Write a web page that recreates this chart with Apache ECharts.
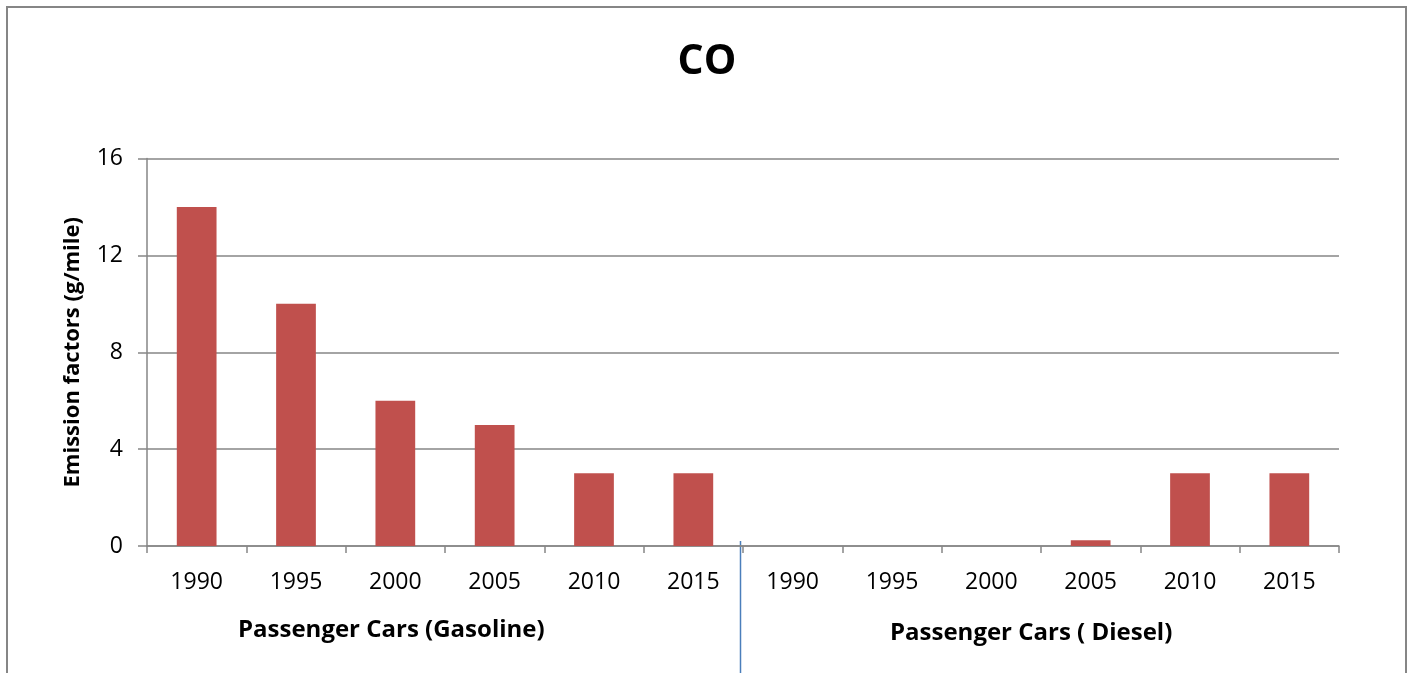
<!DOCTYPE html>
<html>
<head>
<meta charset="utf-8">
<script src="https://cdn.jsdelivr.net/npm/echarts@6/dist/echarts.min.js"></script>
<style>
html,body{margin:0;padding:0;background:#fff;}
#chart{width:1414px;height:673px;}
</style>
</head>
<body>
<div id="chart"></div>
<script>
const categories = ['1990','1995','2000','2005','2010','2015','1990','1995','2000','2005','2010','2015'];
const coValues = [14, 10, 6, 5, 3, 3, 0, 0, 0, 0.24, 3, 3];
const groupLabels = ['Passenger Cars (Gasoline)', 'Passenger Cars ( Diesel)'];
const yTicks = { min: 0, max: 16, interval: 4 };

const FONT = '"Open Sans", sans-serif';
const chart = echarts.init(document.getElementById('chart'), null, {renderer: 'canvas'});

const option = {
  animation: false,
  backgroundColor: '#ffffff',
  title: {
    text: 'CO',
    left: 'center',
    top: 37,
    textStyle: {fontFamily: FONT, fontSize: 41, fontWeight: 'bold', color: '#000'}
  },
  grid: {left: 147, right: 75, top: 158.5, bottom: 127, containLabel: false},
  xAxis: {
    type: 'category',
    data: categories,
    axisLine: {lineStyle: {color: '#868686', width: 1.5}},
    axisTick: {show: true, interval: 0, length: 7, alignWithLabel: false, lineStyle: {color: '#868686', width: 1.5}},
    axisLabel: {interval: 0, margin: 25, color: '#000', fontFamily: FONT, fontSize: 23}
  },
  yAxis: {
    type: 'value',
    min: yTicks.min, max: yTicks.max, interval: yTicks.interval,
    name: 'Emission factors (g/mile)',
    nameLocation: 'middle',
    nameRotate: 90,
    nameGap: 63,
    nameTextStyle: {fontFamily: FONT, fontSize: 22, fontWeight: 'bold', color: '#000'},
    axisLine: {show: true, lineStyle: {color: '#868686', width: 1.5}},
    axisTick: {show: true, length: 9, lineStyle: {color: '#868686', width: 1.5}},
    splitLine: {show: true, lineStyle: {color: '#868686', width: 1.5}},
    axisLabel: {margin: 24, color: '#000', fontFamily: FONT, fontSize: 23}
  },
  series: [{
    type: 'bar',
    data: coValues,
    barWidth: '40%',
    itemStyle: {color: '#c0504d'}
  }],
  graphic: []
};
chart.setOption(option);

// separator between groups, computed from the category axis
const c5 = chart.convertToPixel({xAxisIndex: 0}, 5);
const c6 = chart.convertToPixel({xAxisIndex: 0}, 6);
const sepX = (c5 + c6) / 2 - 2.5;
const zeroY = chart.convertToPixel({yAxisIndex: 0}, 0);

chart.setOption({
  graphic: [
    {type: 'rect', shape: {x: 7, y: 7, width: 1399, height: 720}, style: {fill: 'none', stroke: '#868686', lineWidth: 2}, silent: true},
    {type: 'line', shape: {x1: sepX, y1: zeroY - 5, x2: sepX, y2: 680}, style: {stroke: '#4a7ebb', lineWidth: 1.5}, silent: true},
    {type: 'text', left: 238, top: 618, style: {text: groupLabels[0], font: 'bold 24px ' + FONT, fill: '#000'}},
    {type: 'text', left: 890, top: 621, style: {text: groupLabels[1], font: 'bold 24px ' + FONT, fill: '#000'}}
  ]
});
</script>
</body>
</html>
